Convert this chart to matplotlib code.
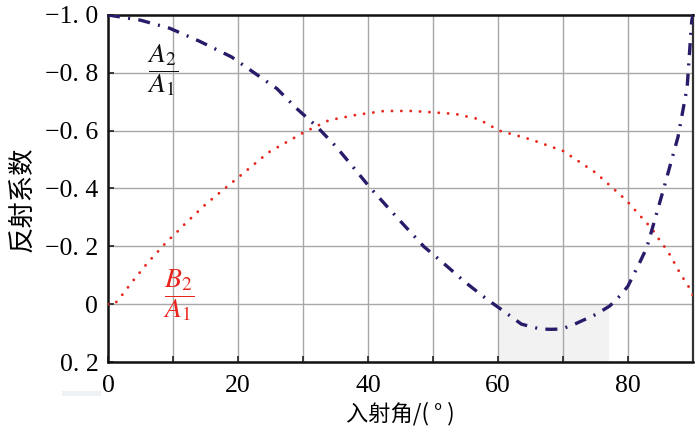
import matplotlib
matplotlib.use("Agg")
import matplotlib.pyplot as plt
from matplotlib.patches import Rectangle

# ---- data ----
a_angle = [0, 5, 9.5, 14, 19, 22.5, 26, 29, 32, 35, 37.6, 40.2, 43, 45.8, 48.6,
           51.8, 55, 58.3, 60.3, 63.6, 66.5, 68.2, 69.8, 71.8, 75.2, 77.2, 79,
           80, 81.8, 82.9, 85.5, 87.7, 89.1, 89.8, 90]
a_ratio = [-1.0, -0.982, -0.954, -0.91, -0.855, -0.80, -0.745, -0.677, -0.617,
           -0.547, -0.477, -0.406, -0.336, -0.267, -0.199, -0.138, -0.075,
           -0.017, 0.015, 0.069, 0.086, 0.087, 0.086, 0.069, 0.034, 0.006,
           -0.034, -0.063, -0.144, -0.196, -0.40, -0.579, -0.75, -0.98, -1.0]

b_angle = [0, 1, 2.4, 3.6, 4.9, 6.2, 7.6, 9.0, 10.5, 11.9, 13.5, 15, 19.8, 24.7,
           30.2, 34, 38.3, 42.5, 46.9, 53.4, 57, 60.2, 65, 70, 75, 79.7, 83.7,
           84.9, 86.1, 87.1, 88.1, 89.2, 90]
b_ratio = [0.0, 0.0, -0.038, -0.074, -0.11, -0.146, -0.18, -0.215, -0.247,
           -0.279, -0.313, -0.345, -0.434, -0.525, -0.595, -0.636, -0.655,
           -0.668, -0.668, -0.658, -0.64, -0.60, -0.57, -0.53, -0.455, -0.36,
           -0.26, -0.22, -0.184, -0.144, -0.103, -0.066, -0.03]

x_ticks = [0, 10, 20, 30, 40, 50, 60, 70, 80, 90]
x_ticklabels = ["0", "", "20", "", "40", "", "60", "", "80", ""]
y_ticks = [-1.0, -0.8, -0.6, -0.4, -0.2, 0.0, 0.2]
y_ticklabels = ["\u22121. 0", "\u22120. 8", "\u22120. 6", "\u22120. 4",
                "\u22120. 2", "0", "0. 2"]

x_label = "入射角/( ° )"
y_label = "反射系数"
label_a = r"$\dfrac{A_2}{A_1}$"
label_b = r"$\dfrac{B_2}{A_1}$"

plt.rcParams["mathtext.fontset"] = "stix"
cjk = ["Noto Sans CJK SC", "DejaVu Sans"]
serif = ["Liberation Serif", "DejaVu Serif"]

fig = plt.figure(figsize=(7.0, 4.38), dpi=100)
ax = fig.add_axes([0.1543, 0.1735, 0.8357, 0.7923])

ax.set_xlim(0, 90)
ax.set_ylim(0.2, -1.0)

# shaded region
ax.add_patch(Rectangle((60, 0.0), 17, 0.2, facecolor="#f3f2f2",
                       edgecolor="none", zorder=0.5))

ax.grid(True, color="#a8a8a8", linewidth=1.0, zorder=1)
ax.set_axisbelow(True)

ax.plot(b_angle, b_ratio, color="#e8261e", linewidth=2.1,
        linestyle=(0, (0.01, 3.2)), dash_capstyle="round", zorder=3)
ax.plot(a_angle, a_ratio, color="#2a1a6a", linewidth=2.4,
        linestyle=(0, (3.6, 2.5, 0.6, 2.5)), zorder=4)

ax.set_xticks(x_ticks)
ax.set_xticklabels(x_ticklabels)
ax.set_yticks(y_ticks)
ax.set_yticklabels(y_ticklabels)
ax.tick_params(direction="in", length=4, width=1.2, color="#222222",
               labelsize=18.5, pad=7)
ax.tick_params(axis="x", pad=9)
for lab in ax.get_xticklabels() + ax.get_yticklabels():
    lab.set_family(serif)

for side in ["left", "bottom", "top"]:
    ax.spines[side].set_linewidth(1.8)
    ax.spines[side].set_color("#111111")
ax.spines["right"].set_linewidth(1.6)
ax.spines["right"].set_color("#333333")

ax.set_xlabel(x_label, fontsize=16, family=cjk, labelpad=4)
ax.set_ylabel(y_label, fontsize=19, family=cjk, labelpad=4)
ax.yaxis.set_label_coords(-0.125, 0.47)

ax.text(8.4, -0.81, label_a, fontsize=20, color="#111111",
        ha="center", va="center", zorder=5)
ax.text(10.8, -0.03, label_b, fontsize=20, color="#e8261e",
        ha="center", va="center", zorder=5)

# faint artefact below the axis
fig.patches.append(Rectangle((62 / 700, 1 - 396 / 438), 39 / 700, 5 / 438,
                             transform=fig.transFigure, facecolor="#eef2f5",
                             edgecolor="none"))

fig.savefig("out.png", dpi=100)
